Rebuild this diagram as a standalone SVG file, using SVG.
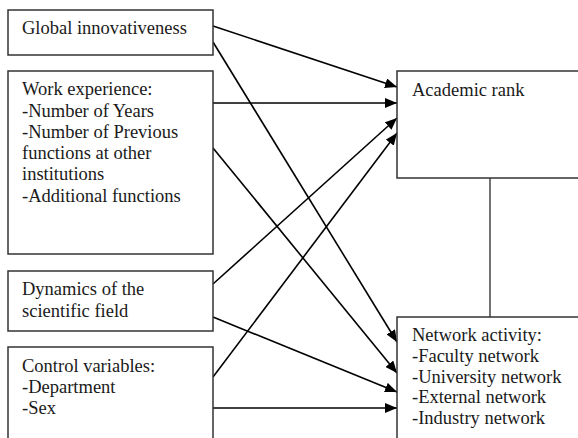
<svg xmlns="http://www.w3.org/2000/svg" width="578" height="438" viewBox="0 0 578 438">
  <style>
    .box { fill: #fff; stroke: #333; stroke-width: 1.5; }
    .lbl { font-family: 'Liberation Serif', 'Times New Roman', serif; font-size: 18.5px; fill: #1a1a1a; }
    .edge { stroke: #000; stroke-width: 1.6; fill: none; marker-end: url(#arrow); }
    .link { stroke: #444; stroke-width: 1.5; fill: none; }
  </style>
  <defs>
    <marker id="arrow" viewBox="0 0 12 10" refX="12" refY="5" markerWidth="12" markerHeight="10" markerUnits="userSpaceOnUse" orient="auto">
      <path d="M0,0 L12,5 L0,10 Z" fill="#000"/>
    </marker>
  </defs>
  <rect width="578" height="438" fill="#fff"/>

  <g id="connectors">
    <!-- into Academic rank -->
    <line class="edge" x1="213" y1="26" x2="397" y2="87"/>
    <line class="edge" x1="213" y1="103" x2="397" y2="103"/>
    <line class="edge" x1="213" y1="284" x2="397" y2="118"/>
    <line class="edge" x1="213" y1="377" x2="397" y2="133"/>
    <!-- into Network activity -->
    <line class="edge" x1="213" y1="42" x2="397" y2="342"/>
    <line class="edge" x1="213" y1="148" x2="397" y2="373"/>
    <line class="edge" x1="213" y1="317" x2="397" y2="392"/>
    <line class="edge" x1="213" y1="408" x2="397" y2="408"/>
    <!-- rank / network link -->
    <line class="link" x1="490" y1="178" x2="490" y2="317"/>
  </g>

  <g id="global">
    <rect class="box" x="8" y="10" width="205" height="45"/>
    <text class="lbl" x="22" y="34">Global innovativeness</text>
  </g>

  <g id="work">
    <rect class="box" x="8" y="71" width="205" height="183"/>
    <text class="lbl" x="22" y="95">Work experience:</text>
    <text class="lbl" x="22" y="117">-Number of Years</text>
    <text class="lbl" x="22" y="138">-Number of Previous</text>
    <text class="lbl" x="22" y="159">functions at other</text>
    <text class="lbl" x="22" y="180">institutions</text>
    <text class="lbl" x="22" y="202">-Additional functions</text>
  </g>

  <g id="dynamics">
    <rect class="box" x="8" y="271" width="205" height="60"/>
    <text class="lbl" x="22" y="295">Dynamics of the</text>
    <text class="lbl" x="22" y="317">scientific field</text>
  </g>

  <g id="control">
    <rect class="box" x="8" y="347" width="205" height="100"/>
    <text class="lbl" x="22" y="372">Control variables:</text>
    <text class="lbl" x="22" y="393">-Department</text>
    <text class="lbl" x="22" y="414">-Sex</text>
  </g>

  <g id="rank">
    <rect class="box" x="397" y="71" width="190" height="107"/>
    <text class="lbl" x="412" y="96">Academic rank</text>
  </g>

  <g id="network">
    <rect class="box" x="397" y="317" width="190" height="130"/>
    <text class="lbl" x="412" y="341">Network activity:</text>
    <text class="lbl" x="412" y="362">-Faculty network</text>
    <text class="lbl" x="412" y="383">-University network</text>
    <text class="lbl" x="412" y="403">-External network</text>
    <text class="lbl" x="412" y="424">-Industry network</text>
  </g>
</svg>
